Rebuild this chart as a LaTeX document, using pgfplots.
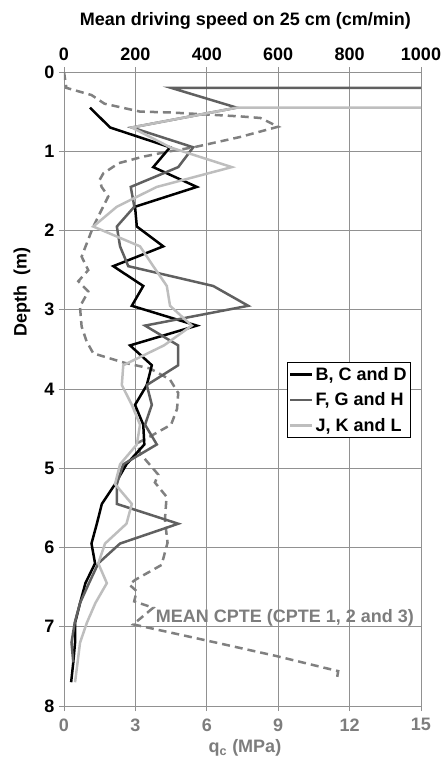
\documentclass[border=0pt]{standalone}
\usepackage{fontspec}
\setmainfont{Liberation Sans}
\usepackage{pgfplots}
\pgfplotsset{compat=1.18}
\definecolor{gridgray}{RGB}{145,145,145}
\definecolor{dgray}{RGB}{96,96,96}
\definecolor{lgray}{RGB}{190,190,190}
\definecolor{dashgray}{RGB}{128,128,128}
\definecolor{labgray}{RGB}{125,125,125}
\newcommand{\cf}{\fontsize{18}{21}\selectfont\bfseries}

\begin{document}
\begin{tikzpicture}
\path[use as bounding box] (-64pt,-52pt) rectangle (379pt,706pt);
\pgfplotsset{
  every axis/.append style={scale only axis,width=357pt,height=634pt,
    at={(0pt,0pt)},anchor=south west,ymin=0,ymax=8,y dir=reverse,
    font=\cf,/pgf/number format/assume math mode=true,
    /pgf/number format/1000 sep={},
    tick align=outside,major tick length=5pt,
    tick style={gridgray,line width=0.8pt}}
}
% bottom axis: q_c (MPa)
\begin{axis}[
  xmin=0,xmax=15,xtick={0,3,...,15},ytick={0,...,8},
  axis x line*=bottom,axis y line*=left,
  axis line style={gridgray,line width=0.8pt},
  grid=major,grid style={gridgray,line width=0.8pt},
  xticklabel style={labgray,yshift=-4pt},
  yticklabel style={xshift=-1pt},
  xlabel={q\textsubscript{c} (MPa)},
  xlabel style={labgray,at={(axis description cs:0.507,-0.066)},anchor=center},
  ylabel={Depth\ \ (m)},
  every axis y label/.style={at={(axis description cs:-0.118,0.653)},rotate=90,anchor=center},
]
\addplot[dashgray,line width=2.5pt,dash pattern=on 8pt off 5pt] coordinates {
(0,0) (0.1,0.2) (1.15,0.29) (1.7,0.40) (3.2,0.50) (4.45,0.51) (7.4,0.56) (8.25,0.58)
(9.0,0.69) (7.4,0.82) (5.45,0.95) (4.45,1.0) (3.3,1.07) (2.3,1.15) (1.65,1.28) (1.5,1.36)
(1.58,1.45) (1.86,1.57) (1.23,1.95) (0.74,2.33) (1.02,2.50) (0.6,2.64) (1.02,2.77) (0.67,2.96)
(0.74,3.21) (0.95,3.40) (1.23,3.55) (2.55,3.67) (3.61,3.74) (4.45,3.88) (4.8,4.05) (4.75,4.25)
(4.5,4.45) (3.61,4.60) (3.1,4.68) (3.19,4.81) (3.96,5.08) (3.82,5.18) (4.31,5.36) (4.24,5.65)
(4.35,5.94) (4.1,6.22) (2.98,6.41) (2.75,6.47) (3.05,6.55) (2.95,6.68) (3.75,6.76) (2.91,6.97)
(5.79,7.16) (8.93,7.37) (11.52,7.56) (11.46,7.67)
};
\node[anchor=west,text=labgray,inner sep=0pt] at (axis cs:3.85,6.89) {MEAN CPTE (CPTE 1, 2 and 3)};
\end{axis}
% top axis: driving speed (cm/min)
\begin{axis}[
  xmin=0,xmax=1000,xtick={0,200,...,1000},
  axis x line*=top,axis y line=none,
  x axis line style={draw=none},
  xticklabel style={yshift=3pt},
  xlabel={Mean driving speed on 25 cm (cm/min)},
  xlabel style={at={(axis description cs:0.508,1.080)},anchor=center},
  legend style={at={(0.972,0.543)},anchor=north east,draw=black,line width=0.6pt,
    fill=white,font=\cf,inner xsep=2pt,inner ysep=3pt,row sep=7pt},
  legend cell align=left,
  legend image code/.code={\draw[#1] (0pt,0pt) -- (22pt,0pt);},
]
\addplot[black,line width=2.5pt] coordinates {
(73,0.45) (129,0.70) (297,0.95) (250,1.20) (372,1.45) (199,1.70) (204,1.95) (278,2.20)
(138,2.45) (222,2.70) (190,2.95) (372,3.20) (185,3.45) (246,3.70) (232,3.95) (199,4.20)
(222,4.45) (225,4.70) (175,4.95) (143,5.20) (106,5.45) (92,5.70) (77,5.95) (87,6.20)
(60,6.45) (45,6.70) (31,6.95) (31,7.20) (26,7.45) (20,7.70)
};
\addlegendentry{B, C and D}
\addplot[dgray,line width=2.5pt] coordinates {
(1000,0.20) (300,0.20) (484,0.45) (190,0.70) (362,0.95) (320,1.20) (187,1.45) (197,1.70)
(148,1.95) (157,2.20) (180,2.45) (418,2.70) (516,2.95) (227,3.20) (320,3.45) (320,3.70)
(232,3.95) (246,4.20) (227,4.45) (260,4.70) (166,4.95) (148,5.20) (148,5.45) (320,5.70)
(157,5.95) (96,6.20) (70,6.45) (45,6.70) (30,6.95) (21,7.20) (26,7.45)
};
\addlegendentry{F, G and H}
\addplot[lgray,line width=2.5pt] coordinates {
(1000,0.45) (484,0.45) (190,0.70) (297,0.95) (470,1.20) (260,1.45) (148,1.70) (82,1.95)
(213,2.20) (250,2.45) (288,2.70) (297,2.95) (358,3.20) (280,3.45) (166,3.70) (162,3.95)
(190,4.20) (213,4.45) (204,4.70) (157,4.95) (143,5.20) (190,5.45) (175,5.70) (115,5.95)
(96,6.20) (120,6.45) (88,6.70) (64,6.95) (45,7.20) (38,7.45) (31,7.70)
};
\addlegendentry{J, K and L}
\end{axis}
\end{tikzpicture}
\end{document}
